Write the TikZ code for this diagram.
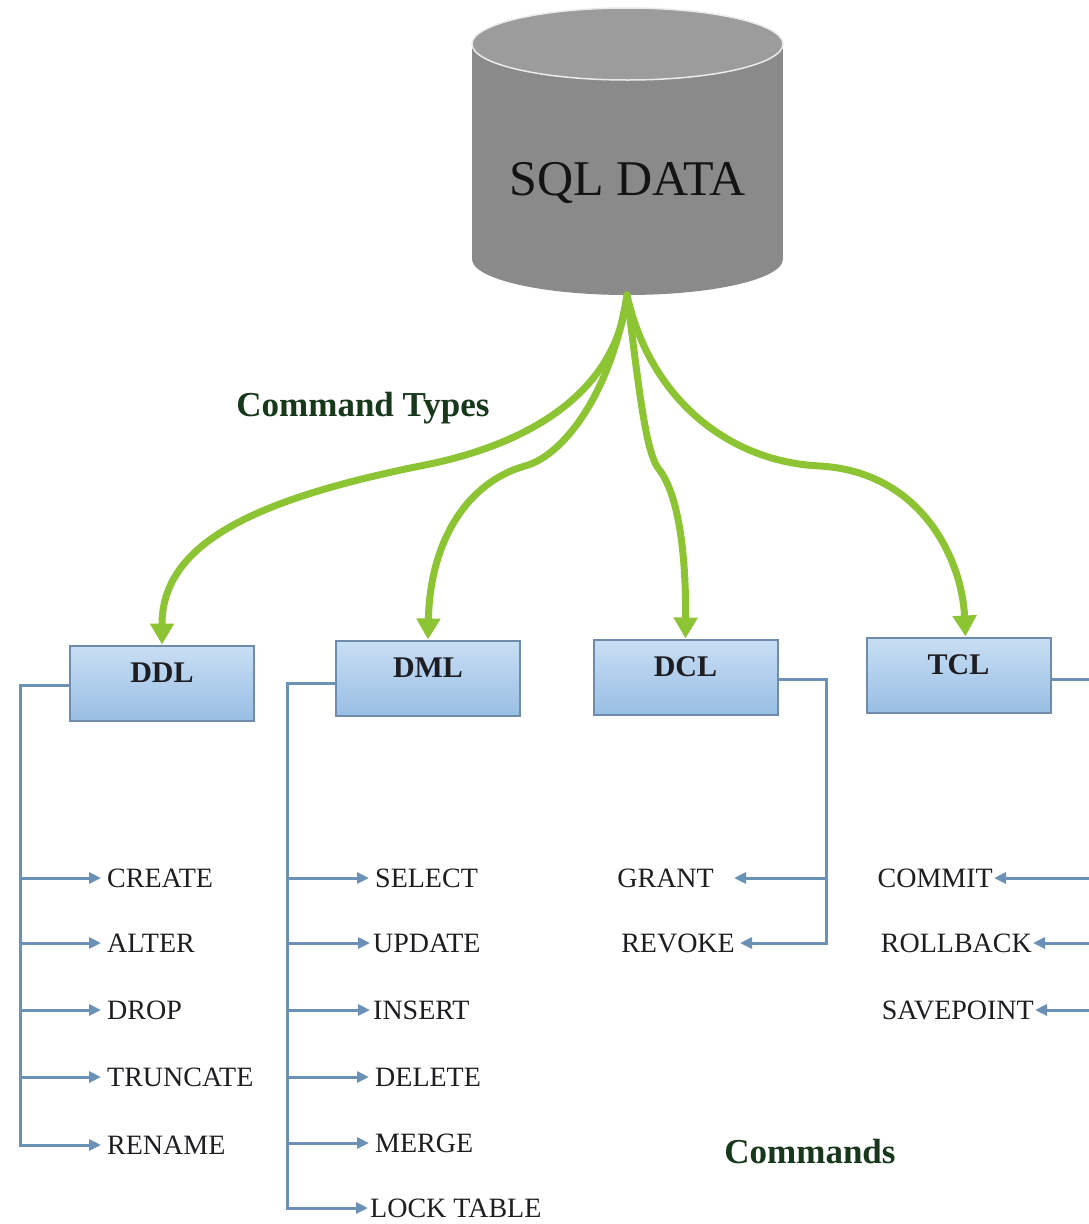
\documentclass[tikz,border=0pt]{standalone}
\usepackage{fontspec}
\setmainfont{Liberation Serif}
\usetikzlibrary{arrows.meta}

\definecolor{dbbody}{RGB}{138,138,138}
\definecolor{dbtop}{RGB}{156,156,156}
\definecolor{leaf}{RGB}{140,196,52}
\definecolor{steel}{RGB}{108,145,182}
\definecolor{boxtop}{RGB}{201,222,244}
\definecolor{boxbot}{RGB}{152,190,228}
\definecolor{boxedge}{RGB}{112,140,172}
\definecolor{caption}{RGB}{24,56,28}
\definecolor{ink}{RGB}{30,30,34}

\begin{document}
\begin{tikzpicture}[x=1pt,y=-1pt,
  typebox/.style={rectangle, draw=boxedge, line width=2pt,
    top color=boxtop, bottom color=boxbot,
    minimum width=184pt, minimum height=75pt, inner sep=0pt,
    font=\fontsize{30}{32}\selectfont\bfseries, text=ink,
    text height=20pt, text depth=21pt},
  item/.style={inner ysep=0pt, inner xsep=6pt, text=ink,
    font=\fontsize{28}{30}\selectfont, text height=18.5pt, text depth=0pt},
  heading/.style={font=\fontsize{35}{38}\selectfont\bfseries, text=caption,
    text height=23pt, text depth=0pt},
  feed/.style={draw=leaf, line width=7pt, line cap=round,
    -{Triangle[length=21pt,width=23pt]}},
  bline/.style={draw=steel, line width=3pt},
  barrow/.style={bline, -{Triangle[length=12pt,width=11pt]}}]

\clip (0,0) rectangle (1089,1224);
\fill[white] (0,0) rectangle (1089,1224);

% database cylinder
\fill[dbbody] (472,44) rectangle (783,259);
\fill[dbbody] (627.5,259) ellipse [x radius=155.5pt, y radius=36pt];
\filldraw[fill=dbtop, draw=white!92!black, line width=1.5pt]
  (627.5,44) ellipse [x radius=155.5pt, y radius=36pt];
\node[font=\fontsize{50}{56}\selectfont, text=black!92, text height=33pt,
  text depth=0pt, inner sep=0pt] (db) at (627.5,179) {SQL DATA};
\coordinate (dbout) at (627,295);

% command type boxes
\node[typebox] (ddl) at (162,683) {DDL};
\node[typebox] (dml) at (428,678) {DML};
\node[typebox] (dcl) at (685.5,677) {DCL};
\node[typebox] (tcl) at (958.5,675) {TCL};

% green feeds from the database
\draw[feed] (dbout) .. controls (617,395) and (525,445) .. (425,465)
  .. controls (250,500) and (162,545) .. (ddl.north);
\draw[feed] (dbout) .. controls (612,390) and (565,455) .. (525,466)
  .. controls (468,482) and (430,540) .. (dml.north);
\draw[feed] (dbout) .. controls (638,380) and (645,450) .. (658,468)
  .. controls (680,495) and (686,560) .. (dcl.north);
\draw[feed] (dbout) .. controls (650,400) and (730,462) .. (820,466)
  .. controls (922,472) and (962,560) .. ([xshift=7pt]tcl.north);

% captions
\node[heading] (types) at (363,405) {Command Types};
\node[heading] (cmds) at (810,1152) {Commands};

% DDL commands
\node[item, anchor=west] (create) at (101,878) {CREATE};
\node[item, anchor=west] (alter) at (101,943) {ALTER};
\node[item, anchor=west] (drop) at (101,1010) {DROP};
\node[item, anchor=west] (trunc) at (101,1077) {TRUNCATE};
\node[item, anchor=west] (rename) at (101,1145) {RENAME};
\draw[barrow] ([yshift=-2pt]ddl.west) -| (20,0 |- rename.west) -- (rename.west);
\foreach \n in {create,alter,drop,trunc}
  \draw[barrow] (20,0 |- \n.west) -- (\n.west);

% DML commands
\node[item, anchor=west] (select) at (369,878) {SELECT};
\node[item, anchor=west, inner xsep=3pt] (update) at (370,943) {UPDATE};
\node[item, anchor=west, inner xsep=3pt] (insert) at (370,1010) {INSERT};
\node[item, anchor=west] (delete) at (369,1077) {DELETE};
\node[item, anchor=west] (merge) at (369,1143) {MERGE};
\node[item, anchor=west, inner xsep=2pt] (lock) at (368,1208) {LOCK TABLE};
\draw[barrow] ([yshift=-5pt]dml.west) -| (287,0 |- lock.west) -- (lock.west);
\foreach \n in {select,update,insert,delete,merge}
  \draw[barrow] (287,0 |- \n.west) -- (\n.west);

% DCL commands
\node[item, anchor=east, inner xsep=20pt] (grant) at (734,878) {GRANT};
\node[item, anchor=east, inner xsep=5pt] (revoke) at (740,943) {REVOKE};
\draw[barrow] ([yshift=-2pt]dcl.east) -| (826,0 |- revoke.east) -- (revoke.east);
\draw[barrow] (826,0 |- grant.east) -- (grant.east);

% TCL commands
\node[item, anchor=east, inner xsep=1pt] (commit) at (994,878) {COMMIT};
\node[item, anchor=east, inner xsep=1pt] (rollback) at (1033,943) {ROLLBACK};
\node[item, anchor=east, inner xsep=1pt] (savept) at (1035,1010) {SAVEPOINT};
\draw[bline] ([yshift=-4pt]tcl.east) -| (1096,0 |- savept.east);
\foreach \n in {commit,rollback,savept}
  \draw[barrow] (1096,0 |- \n.east) -- (\n.east);

\end{tikzpicture}
\end{document}
